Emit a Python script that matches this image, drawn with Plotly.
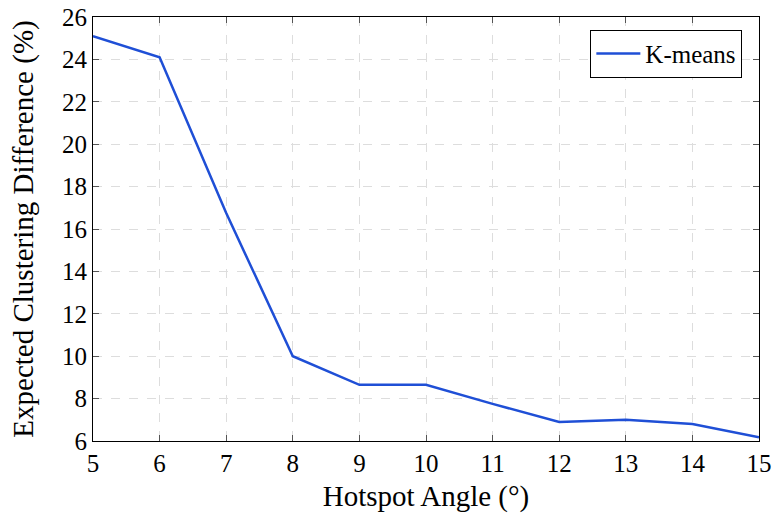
import plotly.graph_objects as go

angles = [5, 6, 7, 8, 9, 10, 11, 12, 13, 14, 15]
kmeans = [25.1, 24.1, 16.75, 10.0, 8.65, 8.65, 7.75, 6.9, 7.0, 6.8, 6.18]
x_ticks = list(range(5, 16))
y_ticks = list(range(6, 27, 2))

fig = go.Figure()
fig.add_trace(go.Scatter(x=angles, y=kmeans, mode="lines", name="K-means",
                         line=dict(color="#1f4fd6", width=2.5)))

font = "Liberation Serif, DejaVu Serif, serif"
fig.update_layout(
    template="none",
    width=774, height=516,
    margin=dict(l=93, r=15, t=17, b=75),
    paper_bgcolor="white", plot_bgcolor="white",
    font=dict(family=font, size=25, color="black"),
    showlegend=True,
    legend=dict(x=0.975, y=0.97, xanchor="right", yanchor="top",
                bgcolor="white", bordercolor="black", borderwidth=1,
                font=dict(family=font, size=25), itemwidth=44),
)
axis_common = dict(showline=True, linecolor="black", linewidth=1, mirror="ticks",
                   ticks="inside", ticklen=6, tickcolor="#555", automargin=False,
                   showgrid=True, gridcolor="#dddddd", griddash="dash", gridwidth=1,
                   zeroline=False, tickfont=dict(family=font, size=25))
fig.update_xaxes(range=[5, 15], tickvals=x_ticks,
                 title=dict(text="Hotspot Angle (°)", standoff=9, font=dict(family=font, size=29)), **axis_common)
fig.update_yaxes(range=[6, 26], tickvals=y_ticks,
                 title=dict(text="Expected Clustering Difference (%)", standoff=19, font=dict(family=font, size=29)), **axis_common)

fig.write_html("out.html")
